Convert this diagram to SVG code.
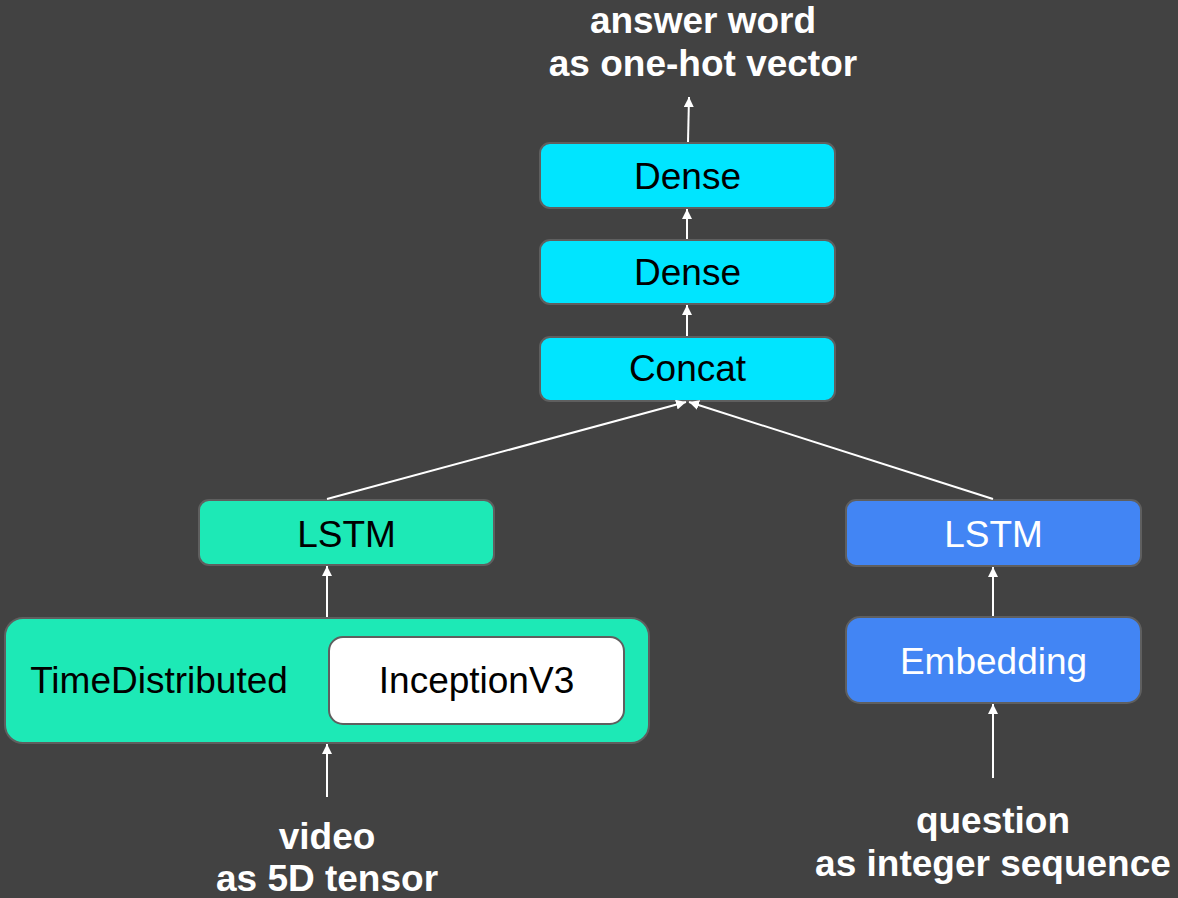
<svg xmlns="http://www.w3.org/2000/svg" width="1178" height="898" viewBox="0 0 1178 898">
  <defs>
    <marker id="arrow" viewBox="0 0 10 10" refX="10" refY="5" markerWidth="10" markerHeight="10" markerUnits="userSpaceOnUse" orient="auto">
      <path d="M0,0 L10,5 L0,10 z" fill="#ffffff"/>
    </marker>
    <style>
      .box { stroke: #5f5f5f; stroke-width: 2; }
      .cyan { fill: #00e5ff; }
      .teal { fill: #1de9b6; }
      .blue { fill: #4285f4; }
      .white { fill: #ffffff; }
      .lbl { font-family: "Liberation Sans", Arial, sans-serif; font-size: 37px; text-anchor: middle; fill: #000000; }
      .lbl-w { fill: #ffffff; }
      .io { font-family: "Liberation Sans", Arial, sans-serif; font-size: 37px; font-weight: bold; text-anchor: middle; fill: #ffffff; }
      .edge { stroke: #ffffff; stroke-width: 2; fill: none; marker-end: url(#arrow); }
    </style>
  </defs>

  <rect width="1178" height="898" fill="#424242"/>

  <!-- output / input labels -->
  <g id="output-label">
    <text class="io" x="703" y="33">answer word</text>
    <text class="io" x="703" y="76">as one-hot vector</text>
  </g>
  <g id="video-label">
    <text class="io" x="327" y="849">video</text>
    <text class="io" x="327" y="891">as 5D tensor</text>
  </g>
  <g id="question-label">
    <text class="io" x="993" y="833">question</text>
    <text class="io" x="993" y="876">as integer sequence</text>
  </g>

  <!-- layers -->
  <g id="dense-2">
    <rect class="box cyan" x="540" y="143" width="295" height="65" rx="10"/>
    <text class="lbl" x="687.5" y="189">Dense</text>
  </g>
  <g id="dense-1">
    <rect class="box cyan" x="540" y="240" width="295" height="64" rx="10"/>
    <text class="lbl" x="687.5" y="285">Dense</text>
  </g>
  <g id="concat">
    <rect class="box cyan" x="540" y="337" width="295" height="64" rx="10"/>
    <text class="lbl" x="687.5" y="381">Concat</text>
  </g>
  <g id="lstm-video">
    <rect class="box teal" x="199" y="500" width="295" height="65" rx="10"/>
    <text class="lbl" x="346.5" y="547">LSTM</text>
  </g>
  <g id="time-distributed">
    <rect class="box teal" x="5" y="618" width="644" height="125" rx="18"/>
    <text class="lbl" x="159" y="693">TimeDistributed</text>
    <g id="inception-v3">
      <rect class="box white" x="329" y="637" width="295" height="87" rx="14"/>
      <text class="lbl" x="476.5" y="693">InceptionV3</text>
    </g>
  </g>
  <g id="lstm-question">
    <rect class="box blue" x="846" y="500" width="295" height="66" rx="10"/>
    <text class="lbl lbl-w" x="993.5" y="547">LSTM</text>
  </g>
  <g id="embedding">
    <rect class="box blue" x="846" y="617" width="295" height="86" rx="14"/>
    <text class="lbl lbl-w" x="993.5" y="674">Embedding</text>
  </g>

  <!-- connectors -->
  <g id="connectors">
    <line class="edge" x1="688" y1="142" x2="689" y2="97"/>
    <line class="edge" x1="687" y1="239" x2="687" y2="209"/>
    <line class="edge" x1="687" y1="336" x2="687" y2="305"/>
    <line class="edge" x1="327" y1="499" x2="686" y2="402"/>
    <line class="edge" x1="993" y1="499" x2="689" y2="402"/>
    <line class="edge" x1="327" y1="617" x2="327" y2="566"/>
    <line class="edge" x1="327" y1="797" x2="327" y2="744"/>
    <line class="edge" x1="993" y1="616" x2="993" y2="567"/>
    <line class="edge" x1="993" y1="778" x2="993" y2="704"/>
  </g>
</svg>
